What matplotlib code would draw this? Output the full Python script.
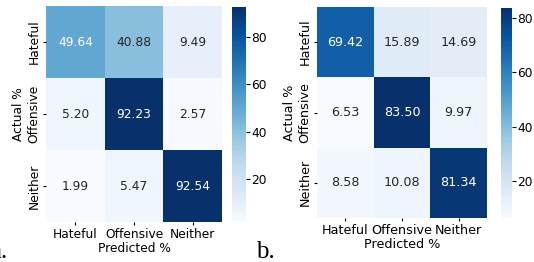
import numpy as np
import matplotlib
matplotlib.use("Agg")
import matplotlib.pyplot as plt
import seaborn as sns

# etiquetas de clases
clases = ["Hateful", "Offensive", "Neither"]

# matrices de confusion (%)
conf_a = np.array([[49.64, 40.88, 9.49],
                   [5.20, 92.23, 2.57],
                   [1.99, 5.47, 92.54]])
conf_b = np.array([[69.42, 15.89, 14.69],
                   [6.53, 83.50, 9.97],
                   [8.58, 10.08, 81.34]])

fig = plt.figure(figsize=(5.34, 2.62), dpi=100)

W, H = 534.0, 262.0
def caja(x0, y0, x1, y1):
    return [x0 / W, 1 - y1 / H, (x1 - x0) / W, (y1 - y0) / H]

ax1 = fig.add_axes(caja(46, 6, 222, 222))
cax1 = fig.add_axes(caja(232, 7, 246, 222))
ax2 = fig.add_axes(caja(317, 7, 487, 218))
cax2 = fig.add_axes(caja(501, 8, 512, 218))

for ax, cax, m, fs in [(ax1, cax1, conf_a, 8.8), (ax2, cax2, conf_b, 9.2)]:
    sns.heatmap(m, ax=ax, cbar_ax=cax, cmap="Blues", annot=True, fmt=".2f",
                xticklabels=clases, yticklabels=clases,
                annot_kws={"fontsize": fs})
    ax.set_xlabel("Predicted %", fontsize=fs, labelpad=1)
    ax.set_ylabel("Actual %", fontsize=fs, labelpad=1.5)
    ax.tick_params(axis='x', labelsize=fs, rotation=0, pad=1.5, length=2.5)
    ax.tick_params(axis='y', labelsize=fs, pad=1.5, length=2.5)
    for t in ax.get_yticklabels():
        t.set_rotation(90)
        t.set_va('center')
    cax.tick_params(labelsize=8.8, pad=1, length=3)
    cax.set_yticks([20, 40, 60, 80])

fig.text(-0.019, -0.005, "a.", fontsize=18, family="Liberation Serif", ha="left", va="bottom")
fig.text(256 / W, -0.005, "b.", fontsize=18, family="Liberation Serif", ha="left", va="bottom")

fig.savefig("out.png", dpi=100)
